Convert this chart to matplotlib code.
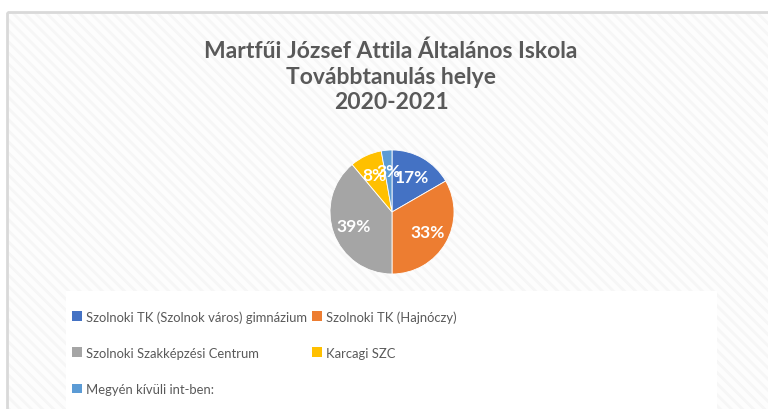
import matplotlib.pyplot as plt
from matplotlib.patches import Rectangle, Patch

plt.rcParams['font.family'] = ['Lato', 'DejaVu Sans']
plt.rcParams['hatch.linewidth'] = 2.0

# ==========================================
# DATA
# ==========================================
title = "Martfűi József Attila Általános Iskola\nTovábbtanulás helye\n2020-2021"
categories = [
    "Szolnoki TK (Szolnok város) gimnázium",
    "Szolnoki TK (Hajnóczy)",
    "Szolnoki Szakképzési Centrum",
    "Karcagi SZC",
    "Megyén kívüli int-ben:",
]
counts = [6, 12, 14, 3, 1]
colors = ['#4472C4', '#ED7D31', '#A5A5A5', '#FFC000', '#5B9BD5']

W, H = 768, 410
fig = plt.figure(figsize=(W / 100, H / 100), dpi=100)

# background in pixel coords
bg = fig.add_axes([0, 0, 1, 1])
bg.set_xlim(0, W)
bg.set_ylim(H, 0)
bg.axis('off')
bg.add_patch(Rectangle((7, 13), W, H, facecolor='#fdfdfd', edgecolor='#f6f6f6',
                       hatch='\\\\\\', linewidth=0))
bg.add_patch(Rectangle((7, 13), W, H, facecolor='none', edgecolor='#d9d9d9', linewidth=2))
bg.add_patch(Rectangle((66, 292), 651, 118, facecolor='white', edgecolor='none'))

bg.text(391, 77, title, ha='center', va='center', fontsize=16.5, fontweight='bold',
        color='#595959', linespacing=1.25)

# pie
cx, cy, r = 392, 213, 62
ax = fig.add_axes([(cx - r) / W, (H - cy - r) / H, 2 * r / W, 2 * r / H])
wedges, texts, autotexts = ax.pie(
    counts, colors=colors, startangle=90, counterclock=False,
    autopct=lambda p: f"{p:.0f}%", pctdistance=0.66,
    wedgeprops=dict(edgecolor='white', linewidth=0.6),
    textprops=dict(color='white', fontsize=12.5, fontweight='bold'))
ax.set_xlim(-1, 1)
ax.set_ylim(-1, 1)
ax.set_aspect('equal')

# legend, row-major order
order = [0, 2, 4, 1, 3]
handles = [Patch(facecolor=colors[i], edgecolor='none') for i in order]
labels = [categories[i] for i in order]
fig.legend(handles, labels, ncol=2, loc='upper left', bbox_to_anchor=(72 / W, 1 - 311 / H),
           frameon=False, fontsize=9.4, labelcolor='#595959', handlelength=0.75,
           handleheight=0.75, handletextpad=0.3, columnspacing=0.4, labelspacing=1.85,
           borderaxespad=0, borderpad=0)

fig.savefig('out.png', dpi=100)
